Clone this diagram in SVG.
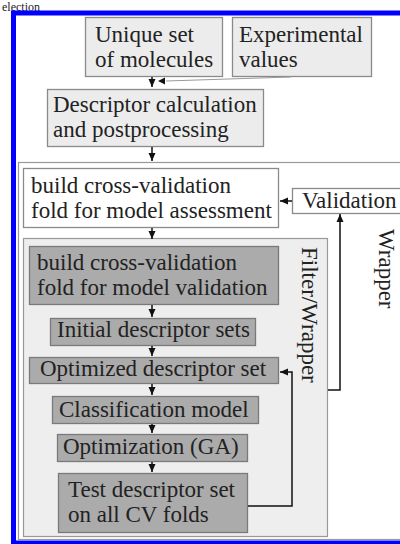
<svg xmlns="http://www.w3.org/2000/svg" width="400" height="544" viewBox="0 0 400 544">
<defs>
<style>
text{font-family:"Liberation Serif","Times New Roman",serif;font-size:23px;fill:#222}
text.cap{font-size:12px}
.lt{fill:#ececec;stroke:#8a8a8a;stroke-width:1.3}
.wh{fill:#fff;stroke:#8a8a8a;stroke-width:1.3}
.dk{fill:#ababab;stroke:#7a7a7a;stroke-width:1.3}
.c{fill:none;stroke:#111;stroke-width:1.5}
.g{fill:none;stroke:#999;stroke-width:1}
</style>
<marker id="ah" markerUnits="userSpaceOnUse" markerWidth="8" markerHeight="8" refX="8" refY="4" orient="auto">
<path d="M0,0.5 L8,4 L0,7.5 z" fill="#111"/>
</marker>
</defs>
<text class="cap" x="2" y="11">election</text>
<rect x="13.5" y="13" width="400" height="530" fill="#fff" stroke="#0000ff" stroke-width="5"/>
<g id="panel-wrapper">
<rect x="18.5" y="162.5" width="400" height="377" fill="#fff" stroke="#999" stroke-width="1.2"/>
<text transform="translate(379,229) rotate(90)">Wrapper</text>
</g>
<g id="panel-filter">
<rect x="23.5" y="238.5" width="304" height="298" fill="#eeeeee" stroke="#999" stroke-width="1.2"/>
<text transform="translate(302,247) rotate(90)">Filter/Wrapper</text>
</g>
<g id="n-unique">
<rect class="lt" x="85.5" y="17.5" width="137" height="59"/>
<text x="95" y="42">Unique set</text>
<text x="95" y="67">of molecules</text>
</g>
<g id="n-experimental">
<rect class="lt" x="232.5" y="17.5" width="139" height="59"/>
<text x="239" y="42">Experimental</text>
<text x="239" y="67">values</text>
</g>
<g id="n-descriptor">
<rect class="lt" x="47.5" y="89.5" width="216" height="57"/>
<text x="53" y="112">Descriptor calculation</text>
<text x="53" y="137">and postprocessing</text>
</g>
<g id="n-assessment">
<rect class="wh" x="23.5" y="168.5" width="255" height="59"/>
<text x="31" y="193">build cross-validation</text>
<text x="31" y="218">fold for model assessment</text>
</g>
<g id="n-validation">
<rect class="wh" x="292.5" y="188.5" width="120" height="25"/>
<text x="302" y="208">Validation</text>
</g>
<g id="n-modelval">
<rect class="dk" x="29.5" y="246.5" width="249" height="58"/>
<text x="37" y="270">build cross-validation</text>
<text x="37" y="295">fold for model validation</text>
</g>
<g id="n-initial">
<rect class="dk" x="50.5" y="318.5" width="205" height="27"/>
<text x="57" y="337">Initial descriptor sets</text>
</g>
<g id="n-optimized">
<rect class="dk" x="29.5" y="357.5" width="249" height="26"/>
<text x="40" y="376">Optimized descriptor set</text>
</g>
<g id="n-classification">
<rect class="dk" x="52.5" y="396.5" width="206" height="27"/>
<text x="59" y="417">Classification model</text>
</g>
<g id="n-optimization">
<rect class="dk" x="57.5" y="434.5" width="190" height="27"/>
<text x="63" y="454">Optimization (GA)</text>
</g>
<g id="n-test">
<rect class="dk" x="58.5" y="473.5" width="189" height="59"/>
<text x="68" y="497">Test descriptor set</text>
<text x="68" y="522">on all CV folds</text>
</g>
<g id="connectors">
<line class="c" x1="152" y1="77" x2="152" y2="87" marker-end="url(#ah)"/>
<polyline class="g" points="291,77 166,81"/>
<path d="M158,81 L165,77.5 L165,84.5 z" fill="#111"/>
<line class="c" x1="152" y1="147" x2="152" y2="161" marker-end="url(#ah)"/>
<line class="c" x1="152" y1="228" x2="152" y2="239" marker-end="url(#ah)"/>
<line class="c" x1="152" y1="305" x2="152" y2="317" marker-end="url(#ah)"/>
<line class="c" x1="152" y1="346" x2="152" y2="356" marker-end="url(#ah)"/>
<line class="c" x1="152" y1="384" x2="152" y2="395" marker-end="url(#ah)"/>
<line class="c" x1="152" y1="424" x2="152" y2="433" marker-end="url(#ah)"/>
<line class="c" x1="152" y1="462" x2="152" y2="472" marker-end="url(#ah)"/>
<line class="c" x1="292" y1="201" x2="280" y2="201" marker-end="url(#ah)"/>
<polyline class="c" points="248,506 292,506 292,372 280,372" marker-end="url(#ah)"/>
<polyline class="c" points="328,390 340,390 340,214" marker-end="url(#ah)"/>
</g>
</svg>
